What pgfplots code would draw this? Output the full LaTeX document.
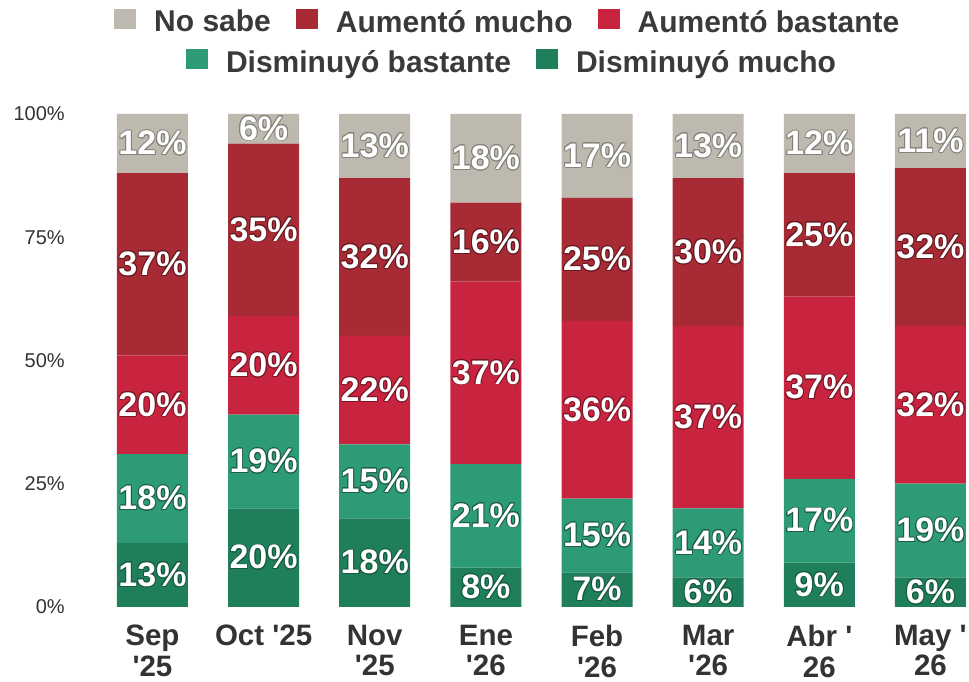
\documentclass[border=0pt]{standalone}
\usepackage{pgfplots}
\pgfplotsset{compat=1.18}
\usepackage{pgfplotstable}
\usepackage{fontspec}
\setmainfont{Liberation Sans}
\usepackage{contour}
\contourlength{0.9pt}
\definecolor{cns}{HTML}{BDB9AF}
\definecolor{cam}{HTML}{A82A35}
\definecolor{cab}{HTML}{C9243F}
\definecolor{cdb}{HTML}{2E9B77}
\definecolor{cdm}{HTML}{1E7F5A}
\definecolor{txt}{HTML}{3A3A3A}
\definecolor{tick}{HTML}{333333}

\pgfplotstableread{
x dm db ab am ns
0 13 18 20 37 12
1 20 19 20 35 6
2 18 15 22 32 13
3 8 21 37 16 18
4 7 15 36 25 17
5 6 14 37 30 13
6 9 17 37 25 12
7 6 19 32 32 11
}\datatable
% label positions: middle of each stacked segment
\pgfplotstablecreatecol[create col/expr={\thisrow{dm}/2}]{ydm}\datatable
\pgfplotstablecreatecol[create col/expr={\thisrow{dm}+\thisrow{db}/2}]{ydb}\datatable
\pgfplotstablecreatecol[create col/expr={\thisrow{dm}+\thisrow{db}+\thisrow{ab}/2}]{yab}\datatable
\pgfplotstablecreatecol[create col/expr={\thisrow{dm}+\thisrow{db}+\thisrow{ab}+\thisrow{am}/2}]{yam}\datatable
\pgfplotstablecreatecol[create col/expr={\thisrow{dm}+\thisrow{db}+\thisrow{ab}+\thisrow{am}+\thisrow{ns}/2}]{yns}\datatable

\newcommand{\q}{\textquotesingle}
\pgfplotsset{
  sq/.style={legend image code/.code={\fill[##1,draw=none] (0pt,-7pt) rectangle (22pt,13pt);}},
  lbl/.style={
    draw=none, mark=none, forget plot,
    point meta=explicit,
    nodes near coords={\contour{#1}{\pgfmathprintnumber[assume math mode=true]{\pgfplotspointmeta}\%}},
    every node near coord/.append style={anchor=center,
      text=white, font=\fontsize{34}{36}\selectfont\bfseries, inner sep=0pt},
  },
  base/.style={
    scale only axis, width=889.1pt, height=493pt,
    at={(0,0)}, anchor=south west,
    xmin=-0.5, xmax=7.5, ymin=0, ymax=100, enlargelimits=false,
  },
  leg/.style={legend columns=-1,
    legend style={draw=none, fill=none,
    font=\fontsize{30}{32}\selectfont\bfseries, text=txt,
    nodes={inner xsep=0pt},
    /tikz/every odd column/.append style={column sep=18pt},
    /tikz/every even column/.append style={column sep=25pt}}},
}

\begin{document}
\begin{tikzpicture}
\path[use as bounding box] (-96.9pt,-75pt) rectangle (872.1pt,607pt);
\begin{axis}[base,
  ybar stacked, bar width=71pt,
  axis line style={draw=none}, major tick length=0pt,
  xtick=data,
  xticklabels={{Sep\\\q25},{Oct \q25},{Nov\\\q25},{Ene\\\q26},{Feb\\\q26},{Mar\\\q26},{Abr \q\\26},{May \q\\26}},
  xticklabel style={align=center, anchor=north, inner sep=0pt, yshift=-18pt,
    font=\fontsize{29.5}{30.5}\selectfont\bfseries, text=tick},
  ytick={0,25,50,75,100},
  yticklabels={0\%,25\%,50\%,75\%,100\%},
  yticklabel style={anchor=east, inner sep=0pt, xshift=-32pt,
    font=\fontsize{20}{22}\selectfont, text=tick},
  reverse legend, leg,
  legend style={at={(0.461,1.187)}, anchor=center},
]
\addplot[fill=cdm, draw=none, forget plot] table[x=x, y=dm] {\datatable};
\addplot[fill=cdb, draw=none, forget plot] table[x=x, y=db] {\datatable};
\addplot[fill=cab, draw=none, sq] table[x=x, y=ab] {\datatable};
\addlegendentry{Aumentó bastante}
\addplot[fill=cam, draw=none, sq] table[x=x, y=am] {\datatable};
\addlegendentry{Aumentó mucho}
\addplot[fill=cns, draw=none, sq] table[x=x, y=ns] {\datatable};
\addlegendentry{No sabe}
\end{axis}
\begin{axis}[base, hide axis, leg, clip=false,
  legend style={at={(0.4658,1.1055)}, anchor=center},
]
\addlegendimage{fill=cdb, draw=none, sq}
\addlegendentry{Disminuyó bastante}
\addlegendimage{fill=cdm, draw=none, sq}
\addlegendentry{Disminuyó mucho}
\addplot[lbl={cdm!70!black}] table[x=x, y=ydm, meta=dm] {\datatable};
\addplot[lbl={cdb!60!black}] table[x=x, y=ydb, meta=db] {\datatable};
\addplot[lbl={cab!60!black}] table[x=x, y=yab, meta=ab] {\datatable};
\addplot[lbl={cam!60!black}] table[x=x, y=yam, meta=am] {\datatable};
\addplot[lbl={cns!70!black}] table[x=x, y=yns, meta=ns] {\datatable};
\end{axis}
\end{tikzpicture}
\end{document}
